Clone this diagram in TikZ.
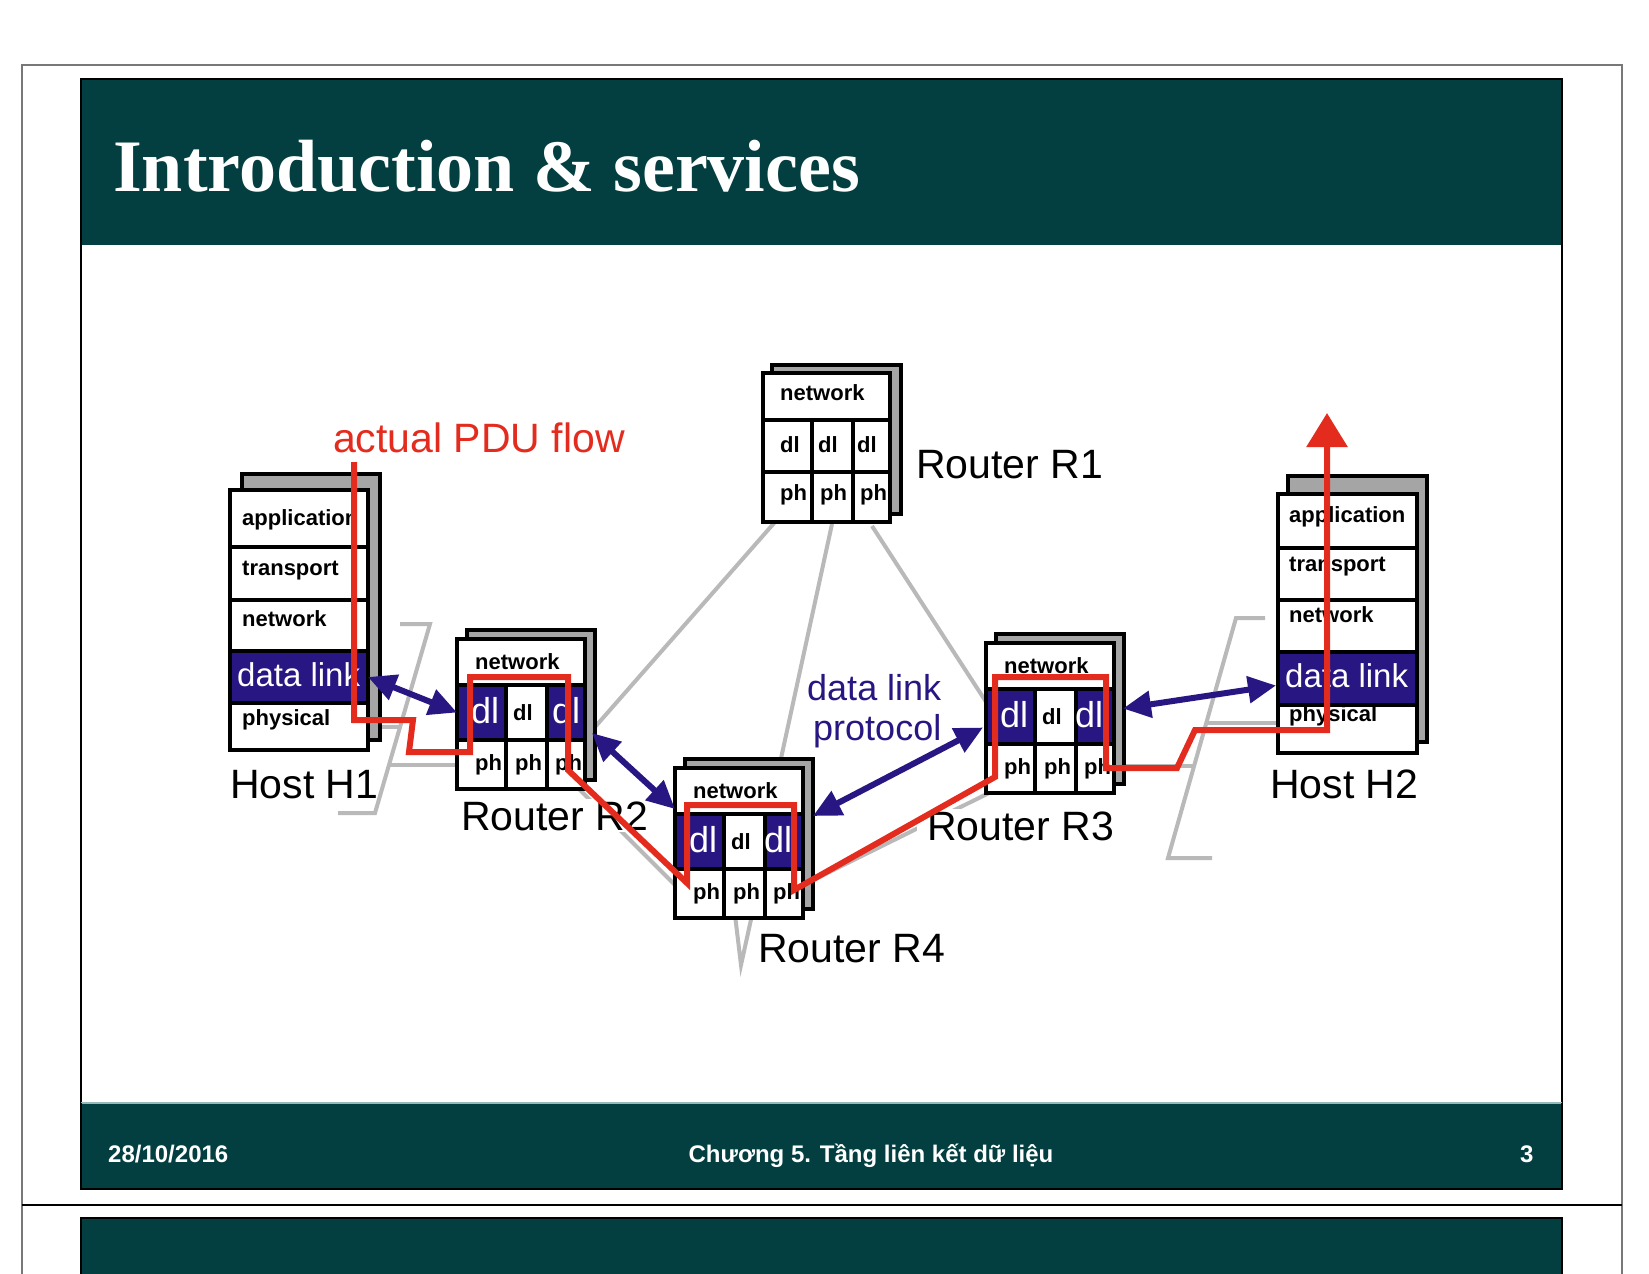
\documentclass[tikz,border=0pt]{standalone}
\usepackage{fontspec}
\setmainfont{Liberation Sans}
\newfontfamily\titleserif{Liberation Serif}
\usetikzlibrary{arrows.meta,calc}
\definecolor{slidegreen}{RGB}{3,62,64}
\definecolor{dlblue}{RGB}{40,22,130}
\definecolor{pdured}{RGB}{228,44,30}
\definecolor{linkgray}{RGB}{185,185,185}
\definecolor{shadegray}{RGB}{165,165,165}
\definecolor{framegray}{RGB}{120,120,120}
\definecolor{footline}{RGB}{150,185,185}
\tikzset{
  backbox/.style={draw=black, fill=shadegray, line width=4pt},
  cellbox/.style={draw=black, fill=white, line width=3.5pt, inner sep=0pt, outer sep=0pt, anchor=north west},
  bluebox/.style={cellbox, fill=dlblue},
  lay/.style={font=\bfseries\fontsize{22}{22}\selectfont, inner sep=0pt, anchor=base west},
  laywhite/.style={font=\fontsize{33}{33}\selectfont, text=white, inner sep=0pt, anchor=base west},
  dlwhite/.style={font=\fontsize{36}{36}\selectfont, text=white, inner sep=0pt, anchor=base west},
  biglabel/.style={font=\fontsize{41}{41}\selectfont, inner sep=0pt, anchor=base west},
  link/.style={draw=linkgray, line width=4pt},
  dlarrow/.style={draw=dlblue, line width=6pt, {Triangle[length=28pt,width=26pt]}-{Triangle[length=28pt,width=26pt]}},
  flow/.style={draw=pdured, line width=6pt, line join=miter},
  foot/.style={text=white, inner sep=0pt, font=\bfseries\fontsize{24}{24}\selectfont}
}
\newcommand{\drawrouter}[4]{%
\begin{scope}[shift={(#2,#3)}]
\draw[backbox] (10,-9) rectangle (138,141);
\node[cellbox, minimum width=128pt, minimum height=46pt] (#1net) at (0,0) {};
\node[bluebox, minimum width=49pt, minimum height=55pt] (#1dla) at (0,46) {};
\node[cellbox, minimum width=41pt, minimum height=55pt] (#1dlb) at (49,46) {};
\node[bluebox, minimum width=38pt, minimum height=55pt] (#1dlc) at (90,46) {};
\node[cellbox, minimum width=49pt, minimum height=49pt] (#1pha) at (0,101) {};
\node[cellbox, minimum width=41pt, minimum height=49pt] (#1phb) at (49,101) {};
\node[cellbox, minimum width=38pt, minimum height=49pt] (#1phc) at (90,101) {};
\node[lay] (#1nett) at (18,30) {network};
\node[dlwhite] (#1dlat) at (14,84) {dl};
\node[lay] (#1dlbt) at (56,81) {dl};
\node[dlwhite] (#1dlct) at (#4,84) {dl};
\node[lay] (#1phat) at (18,131) {ph};
\node[lay] (#1phbt) at (58,131) {ph};
\node[lay] (#1phct) at (98,131) {ph};
\end{scope}}
\begin{document}
\begin{tikzpicture}[x=1pt,y=-1pt]
\useasboundingbox (0,0) rectangle (1649,1274);
\fill[white] (0,0) rectangle (1649,1274);
% slide frame
\draw[framegray, line width=1.5pt] (22,1274) -- (22,65) -- (1622,65) -- (1622,1274);
\draw[black, line width=1.5pt] (22,1205) -- (1622,1205);
\fill[slidegreen] (81,79) rectangle (1562,245);
\draw[black, line width=2pt] (81,245) -- (81,79) -- (1562,79) -- (1562,245);
\draw[black, line width=1.2pt] (81,245) -- (81,1103) (1562,245) -- (1562,1103);
\fill[slidegreen] (81,1103) rectangle (1562,1189);
\draw[footline, line width=2.5pt] (81,1103) -- (1562,1103);
\draw[black, line width=2pt] (81,1103) -- (81,1189) -- (1562,1189) -- (1562,1103);
\fill[slidegreen] (81,1218) rectangle (1562,1274);
\draw[black, line width=2pt] (81,1274) -- (81,1218) -- (1562,1218) -- (1562,1274);
\node[anchor=base west, inner sep=0pt, text=white, font=\titleserif\bfseries\fontsize{74}{74}\selectfont] (title) at (113,191) {Introduction \& services};
\node[foot, anchor=base west] (fdate) at (108,1162) {28/10/2016};
\node[foot, anchor=base] (fchap) at (871,1162) {Chương 5. Tầng liên kết dữ liệu};
\node[foot, anchor=base west] (fpage) at (1520,1162) {3};
% links (wires)
\draw[link] (400,624) -- (430,624) -- (375,813) -- (338,813);
\draw[link] (368,727) -- (401,727);
\draw[link] (390,765) -- (457,765);
\draw[link] (1265,618) -- (1236,618) -- (1168,858) -- (1212,858);
\draw[link] (1206,723) -- (1278,723);
\draw[link] (1114,766) -- (1194,766);
\draw[link] (775,522) -- (595,727);
\draw[link] (832,524) -- (780,763);
\draw[link] (872,526) -- (990,708);
\draw[link] (570,780) -- (690,900);
\draw[link] (795,889) -- (995,790);
\draw[link] (735,915) -- (741,965) -- (752,915);
% Host H1
\draw[backbox] (242,474) rectangle (380,740);
\node[cellbox, minimum width=138pt, minimum height=57pt] (h1app) at (230,490) {};
\node[cellbox, minimum width=138pt, minimum height=53pt] (h1trn) at (230,547) {};
\node[cellbox, minimum width=138pt, minimum height=51pt] (h1net) at (230,600) {};
\node[bluebox, minimum width=138pt, minimum height=52pt] (h1dl) at (230,651) {};
\node[cellbox, minimum width=138pt, minimum height=47pt] (h1phy) at (230,703) {};
\node[lay] (h1appt) at (242,525) {application};
\node[lay] (h1trnt) at (242,575) {transport};
\node[lay] (h1nett) at (242,626) {network};
\node[laywhite] (h1dlt) at (237,686) {data link};
\node[lay] (h1phyt) at (242,725) {physical};
% Host H2
\draw[backbox] (1288,476) rectangle (1427,742);
\node[cellbox, minimum width=139pt, minimum height=54pt] (h2app) at (1278,494) {};
\node[cellbox, minimum width=139pt, minimum height=52pt] (h2trn) at (1278,548) {};
\node[cellbox, minimum width=139pt, minimum height=52pt] (h2net) at (1278,600) {};
\node[bluebox, minimum width=139pt, minimum height=53pt] (h2dl) at (1278,652) {};
\node[cellbox, minimum width=139pt, minimum height=48pt] (h2phy) at (1278,705) {};
\node[lay] (h2appt) at (1289,522) {application};
\node[lay] (h2trnt) at (1289,571) {transport};
\node[lay] (h2nett) at (1289,622) {network};
\node[laywhite] (h2dlt) at (1285,687) {data link};
\node[lay] (h2phyt) at (1289,721) {physical};
% Router R1
\begin{scope}[shift={(763,373)}]
\draw[backbox] (9,-8) rectangle (138,141);
\node[cellbox, minimum width=127pt, minimum height=47pt] (r1net) at (0,0) {};
\node[cellbox, minimum width=49pt, minimum height=52pt] (r1dla) at (0,47) {};
\node[cellbox, minimum width=41pt, minimum height=52pt] (r1dlb) at (49,47) {};
\node[cellbox, minimum width=37pt, minimum height=52pt] (r1dlc) at (90,47) {};
\node[cellbox, minimum width=49pt, minimum height=50pt] (r1pha) at (0,99) {};
\node[cellbox, minimum width=41pt, minimum height=50pt] (r1phb) at (49,99) {};
\node[cellbox, minimum width=37pt, minimum height=50pt] (r1phc) at (90,99) {};
\node[lay] (r1nett) at (17,27) {network};
\node[lay] (r1dlat) at (17,79) {dl};
\node[lay] (r1dlbt) at (55,79) {dl};
\node[lay] (r1dlct) at (94,79) {dl};
\node[lay] (r1phat) at (17,127) {ph};
\node[lay] (r1phbt) at (57,127) {ph};
\node[lay] (r1phct) at (97,127) {ph};
\end{scope}
\drawrouter{r2}{457}{639}{95}
\drawrouter{r3}{986}{643}{89}
\drawrouter{r4}{675}{768}{89}
% labels
\node[biglabel] (lh1) at (230,798) {Host H1};
\node[biglabel, fill=white, inner xsep=6pt, inner ysep=2pt] (lr2) at (455,830) {Router R2};
\node[biglabel] (lr1) at (916,478) {Router R1};
\node[biglabel, fill=white, inner xsep=10pt, inner ysep=2pt] (lr3) at (917,840) {Router R3};
\node[biglabel] (lr4) at (758,962) {Router R4};
\node[biglabel] (lh2) at (1270,798) {Host H2};
\node[anchor=base west, inner sep=0pt, text=pdured, font=\fontsize{41}{41}\selectfont] (pdulab) at (333,452) {actual PDU flow};
\node[anchor=base west, inner sep=0pt, text=dlblue, font=\fontsize{36}{36}\selectfont] (dlp1) at (807,700) {data link};
\node[anchor=base west, inner sep=0pt, text=dlblue, font=\fontsize{36}{36}\selectfont] (dlp2) at (813,740) {protocol};
% data link protocol arrows
\draw[dlarrow] (h1dl.east) -- (r2dla.west);
\draw[dlarrow] ($(r2dlc.south east)+(7,-7)$) -- ($(r4net.south west)+(0,-5)$);
\draw[dlarrow] ($(r4dlc.north east)+(10,2)$) -- ($(r3dla.west)+(-3,11)$);
\draw[dlarrow] ($(r3dlc.east)+(9,-8)$) -- ($(h2dl.west)+(-2,7)$);
% actual PDU flow
\draw[flow, -{Triangle[length=34pt,width=40pt]}] (354,462) -- (354,720) -- (413,720) -- (409,752) -- (470,752) -- (470,677) -- (568,677) -- (568,770) -- (687,883) -- (687,805) -- (794,805) -- (794,890) -- (995,777) -- (995,677) -- (1106,677) -- (1106,768) -- (1177,768) -- (1195,730) -- (1327,730) -- (1327,413);
\end{tikzpicture}
\end{document}
